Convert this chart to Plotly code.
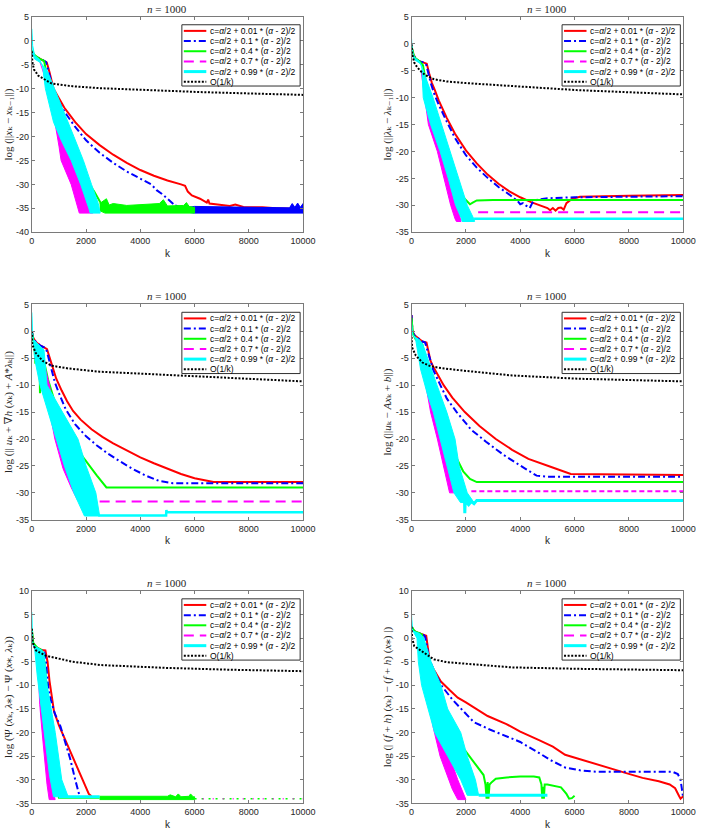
import plotly.graph_objects as go

# ---------------- colours / styles ----------------
RED, BLUE, GREEN, MAGENTA, CYAN, BLACK = "#ff0000", "#0000ff", "#00ff00", "#ff00ff", "#00ffff", "#000000"
SOLID, DASHDOT, DASH, DOT = "solid", "7px,3px,2px,3px", "10px,6px", "2px,1.6px"

SERIES_LABELS = [
    "c=<i>α</i>/2 + 0.01 * (<i>α</i> - 2)/2",
    "c=<i>α</i>/2 + 0.1 * (<i>α</i> - 2)/2",
    "c=<i>α</i>/2 + 0.4 * (<i>α</i> - 2)/2",
    "c=<i>α</i>/2 + 0.7 * (<i>α</i> - 2)/2",
    "c=<i>α</i>/2 + 0.99 * (<i>α</i> - 2)/2",
    "O(1/k)",
]
TITLE_TEXT = "<i>n</i> = 1000"
X_TICKS = [0, 2000, 4000, 6000, 8000, 10000]

Y_LABELS = [
    "log (||<i>x</i>ₖ − <i>x</i>ₖ₋₁||)",
    "log (||<i>λ</i>ₖ − <i>λ</i>ₖ₋₁||)",
    "log (|| <i>u</i>ₖ + ∇<i>h</i> (<i>x</i>ₖ) + <i>A</i>*<i>λ</i>ₖ||)",
    "log (||<i>u</i>ₖ − <i>Ax</i>ₖ + <i>b</i>||)",
    "log (Ψ (<i>x</i>ₖ, <i>λ</i>⁎) − Ψ (<i>x</i>⁎, <i>λ</i>ₖ))",
    "log (| (<i>f</i> + <i>h</i>) (<i>x</i>ₖ) − (<i>f</i> + <i>h</i>) (<i>x</i>⁎) |)",
]
Y_RANGES = [(-40, 5), (-35, 5), (-35, 5), (-35, 5), (-35, 10), (-35, 10)]

# ---------------- Panel 1 : ||x_k - x_{k-1}|| ----------------
P1_RED = [(0, -2.0), (50, -2.8), (150, -3.3), (300, -3.8), (450, -4.2), (550, -4.5), (650, -6.5), (750, -9.0),
          (800, -10.0), (1000, -12.0), (1200, -14.0), (1600, -17.0), (2000, -19.5), (2500, -21.8), (3000, -23.8),
          (3500, -25.5), (4000, -27.0), (4500, -28.2), (5000, -29.2), (5500, -30.0), (5650, -30.3), (5750, -31.5),
          (5900, -32.3), (6200, -33.0), (6450, -33.8), (6500, -33.2), (6550, -34.0), (7000, -34.3), (7300, -34.5),
          (7500, -34.2), (7800, -34.7), (8500, -34.8), (9000, -35.0), (10000, -35.2)]
P1_BLUE = [(0, -2.0), (50, -2.8), (150, -3.3), (300, -3.8), (450, -4.2), (520, -4.4), (620, -6.5), (720, -9.0),
           (800, -10.3), (1000, -12.8), (1200, -14.8), (1600, -18.0), (2000, -20.8), (2500, -23.4), (3000, -25.5),
           (3500, -27.3), (4000, -28.8), (4400, -30.0), (4600, -31.2), (4800, -32.0), (5000, -33.0), (5200, -34.0),
           (5400, -35.0)]
P1_BLUE_FLOOR_TOP = [(5300, -34.3), (5600, -34.9), (6000, -34.6), (9500, -34.9), (9600, -34.0), (9700, -34.8),
                     (9800, -33.9), (9900, -34.8), (10000, -34.0)]
P1_BLUE_FLOOR_BOT = [(5300, -35.5), (6000, -36.0), (10000, -36.0)]
P1_GREEN = [(0, -2.0), (100, -3.0), (300, -3.8), (450, -4.2), (550, -7.0), (800, -12.0), (1200, -19.0),
            (1600, -25.0), (2000, -29.0), (2300, -31.5), (2550, -34.0), (2700, -35.0)]
P1_GREEN_FLOOR_TOP = [(2500, -34.0), (2750, -33.0), (2850, -34.3), (3000, -34.0), (3500, -34.4), (4000, -34.2),
                      (4700, -34.0), (4850, -33.2), (5000, -34.5), (5600, -34.4), (5700, -33.8), (5800, -34.6),
                      (6000, -34.8)]
P1_GREEN_FLOOR_BOT = [(2500, -35.5), (2700, -36.0), (6000, -36.0)]
P1_MAGENTA_TOP = [(300, -4.5), (450, -7.0), (650, -12.0), (850, -17.0), (1000, -22.0), (1080, -25.0),
                  (1450, -30.0), (1700, -35.0), (1750, -36.0)]
P1_MAGENTA_BOT = [(450, -7.0), (700, -12.0), (950, -18.0), (1200, -22.0), (1500, -25.0), (1860, -30.0),
                  (2230, -35.5), (2250, -36.0)]
P1_CYAN_TOP = [(0, 2.5), (30, -1.0), (100, -3.0), (300, -4.0), (400, -5.5), (500, -10.0), (800, -17.0),
               (1100, -21.0), (1450, -25.0), (1800, -30.0), (2100, -35.0), (2150, -36.0)]
P1_CYAN_BOT = [(20, -2.5), (100, -3.8), (300, -4.5), (550, -6.0), (830, -10.0), (1200, -15.0), (1550, -20.0),
               (1900, -25.0), (2200, -30.0), (2450, -34.0), (2520, -36.0)]
P1_BLACK = [(1, -2.2), (20, -4.5), (80, -6.0), (240, -7.3), (720, -8.9), (1500, -9.5), (2500, -9.9),
            (3730, -10.2), (5000, -10.5), (6140, -10.7), (8000, -11.0), (10000, -11.3)]

# ---------------- Panel 2 : ||lambda_k - lambda_{k-1}|| ----------------
P2_RED = [(0, -0.5), (50, -1.8), (150, -2.8), (300, -3.3), (450, -3.5), (560, -3.7), (650, -5.5), (750, -7.3),
          (850, -8.5), (1000, -10.5), (1300, -13.8), (1600, -16.7), (2000, -19.8), (2400, -22.2), (2800, -24.3),
          (3200, -26.0), (3600, -27.4), (4000, -28.5), (4400, -29.4), (4800, -30.2), (5000, -30.5), (5100, -30.9),
          (5200, -30.5), (5300, -31.0), (5400, -30.5), (5500, -30.4), (5600, -30.8), (5700, -29.6), (5900, -28.8),
          (6200, -28.4), (7000, -28.3), (8000, -28.2), (10000, -28.1)]
P2_BLUE = [(0, -0.5), (50, -1.8), (150, -2.8), (300, -3.3), (450, -3.5), (530, -3.7), (620, -5.5), (720, -7.5),
           (850, -9.5), (1000, -11.3), (1300, -14.5), (1600, -17.5), (2000, -20.7), (2400, -23.0), (2800, -24.9),
           (3200, -26.6), (3600, -28.0), (3900, -29.2), (4000, -29.8), (4100, -29.6), (4200, -30.0), (4350, -30.5),
           (4450, -29.5), (4600, -29.0), (5000, -28.7), (6000, -28.5), (8000, -28.4), (10000, -28.3)]
P2_GREEN = [(0, -0.5), (100, -2.5), (300, -3.3), (420, -4.0), (600, -9.0), (900, -15.0), (1200, -20.0),
            (1500, -25.0), (1800, -28.0), (2050, -29.4), (2150, -29.8), (2250, -29.5), (2400, -29.1), (3000, -29.0),
            (10000, -29.0)]
P2_MAGENTA_TOP = [(350, -5.0), (480, -10.0), (620, -15.0), (950, -20.0), (1200, -25.0), (1440, -30.0),
                  (1600, -32.5), (1650, -33.0)]
P2_MAGENTA_BOT = [(450, -6.0), (650, -11.0), (800, -15.0), (1150, -20.0), (1400, -25.0), (1650, -30.0),
                  (1800, -32.5), (1820, -33.0)]
P2_MAGENTA_FLAT = [(2450, -31.3), (10000, -31.3)]
P2_CYAN_TOP = [(0, 1.0), (20, -1.0), (100, -2.5), (300, -3.3), (380, -4.5), (430, -10.0), (700, -15.0),
               (1050, -20.0), (1350, -25.0), (1620, -30.0), (1840, -32.5), (1860, -33.0)]
P2_CYAN_BOT = [(60, -2.8), (350, -3.8), (500, -6.0), (790, -10.0), (1440, -20.0), (1800, -26.0), (2050, -30.0),
               (2300, -32.6), (2320, -33.0)]
P2_CYAN_FLAT = [(2300, -32.5), (10000, -32.5)]
P2_BLACK = [(1, -0.1), (30, -2.0), (100, -3.5), (200, -4.3), (320, -5.0), (500, -5.8), (830, -6.6),
            (1300, -7.0), (2000, -7.3), (3700, -7.8), (6070, -8.6), (8000, -9.0), (10000, -9.4)]

# ---------------- Panel 3 : ||u_k + grad h(x_k) + A* lambda_k|| ----------------
P3_RED = [(0, 0.0), (50, -1.2), (150, -2.0), (300, -2.6), (450, -3.0), (560, -3.3), (650, -4.8), (750, -6.6),
          (900, -8.8), (1100, -11.0), (1300, -13.0), (1520, -14.8), (1800, -16.4), (2200, -18.2), (2600, -19.6),
          (3000, -20.8), (3500, -22.1), (4000, -23.4), (4500, -24.5), (5000, -25.5), (5500, -26.5), (6000, -27.3),
          (6500, -27.9), (6700, -28.0), (10000, -28.0)]
P3_BLUE = [(0, 0.0), (50, -1.2), (150, -2.0), (300, -2.6), (450, -3.0), (530, -3.3), (620, -5.0), (720, -7.0),
           (850, -9.5), (1000, -11.5), (1250, -14.5), (1600, -17.3), (2000, -19.5), (2400, -21.2), (2800, -22.7),
           (3200, -24.0), (3700, -25.5), (4200, -26.8), (4700, -27.8), (5200, -28.2), (10000, -28.2)]
P3_GREEN = [(0, 0.0), (50, -1.5), (100, -3.0), (130, -6.0), (160, -3.0), (280, -3.5), (300, -11.5), (320, -4.0),
            (400, -4.5), (600, -9.0), (900, -14.0), (1300, -19.0), (1700, -22.0), (1950, -23.8), (2400, -26.8),
            (2750, -29.0), (10000, -29.0)]
P3_MAGENTA_TOP = [(300, -4.0), (450, -9.0), (620, -14.0), (850, -20.0), (1150, -25.5), (1450, -29.0),
                  (1700, -31.5)]
P3_MAGENTA_BOT = [(400, -5.0), (650, -10.0), (860, -16.0), (1100, -21.0), (1500, -27.0), (1800, -30.5),
                  (1900, -31.5)]
P3_MAGENTA_FLAT = [(2500, -31.6), (10000, -31.6)]
P3_CYAN_TOP = [(0, 3.5), (30, -1.0), (80, -3.0), (100, -5.0), (300, -10.0), (600, -15.0), (900, -20.0),
               (1200, -25.0), (1550, -30.0), (1940, -34.3)]
P3_CYAN_BOT = [(60, -1.5), (300, -2.7), (450, -3.5), (560, -10.0), (1130, -15.0), (1700, -20.0), (2000, -25.0),
               (2360, -30.0), (2500, -34.3)]
P3_CYAN_FLAT = [(2450, -34.2), (4950, -34.2), (4960, -33.2), (4980, -33.6), (10000, -33.6)]
P3_BLACK = [(1, 0.0), (20, -2.5), (140, -4.0), (400, -5.5), (740, -6.4), (1340, -6.9), (2500, -7.5),
            (3740, -7.8), (6140, -8.5), (8000, -8.9), (10000, -9.3)]

# ---------------- Panel 4 : ||u_k - A x_k + b|| ----------------
P4_RED = [(0, 3.0), (30, 0.0), (100, -0.7), (250, -1.3), (400, -1.9), (550, -2.1), (620, -3.5), (700, -5.5),
          (800, -6.6), (1000, -8.5), (1180, -10.0), (1500, -12.3), (1960, -15.0), (2500, -17.6), (3100, -20.0),
          (3700, -22.0), (4300, -23.7), (5140, -25.2), (5500, -25.9), (5860, -26.5), (10000, -26.7)]
P4_BLUE = [(0, 3.0), (30, 0.0), (100, -0.7), (250, -1.3), (400, -1.9), (500, -2.1), (580, -3.5), (680, -5.5),
           (800, -7.2), (1060, -10.0), (1300, -12.5), (1660, -15.0), (2200, -18.3), (2740, -20.5), (3400, -23.0),
           (4180, -25.5), (4600, -26.8), (5000, -27.0), (10000, -27.0)]
P4_GREEN = [(0, 2.5), (50, -0.5), (150, -1.5), (300, -2.0), (400, -2.5), (550, -6.0), (800, -11.0),
            (1100, -16.0), (1400, -21.0), (1700, -24.0), (1900, -26.0), (2150, -27.4), (2400, -28.0),
            (10000, -28.0)]
P4_MAGENTA_TOP = [(280, -3.0), (420, -7.0), (560, -11.0), (700, -15.0), (950, -20.0), (1150, -24.5),
                  (1350, -29.5), (1400, -30.0)]
P4_MAGENTA_BOT = [(380, -3.5), (600, -9.0), (820, -15.0), (1050, -19.0), (1350, -25.0), (1650, -29.0),
                  (1850, -30.0)]
P4_MAGENTA_FLAT = [(2200, -29.7), (10000, -29.7)]
P4_CYAN_TOP = [(0, 2.0), (30, -0.5), (150, -1.5), (200, -3.0), (330, -7.0), (600, -12.0), (800, -15.0),
               (1050, -20.0), (1300, -25.0), (1560, -30.0), (1800, -31.8)]
P4_CYAN_BOT = [(60, -0.8), (300, -1.6), (420, -2.5), (500, -4.0), (936, -10.0), (1296, -15.0), (1600, -20.0),
               (1750, -25.0), (2050, -30.0), (2300, -31.8)]
P4_CYAN_FLAT = [(1950, -31.5), (1960, -33.8), (1975, -31.5), (2100, -32.2), (2200, -31.6), (2300, -32.0),
                (2400, -31.4), (10000, -31.4)]
P4_BLACK = [(1, -1.0), (20, -3.0), (155, -4.5), (400, -5.8), (700, -6.5), (1200, -6.9), (1900, -7.3),
            (3700, -8.2), (6100, -8.8), (8000, -9.1), (10000, -9.3)]

# ---------------- Panel 5 : Psi(x_k, l_*) - Psi(x_*, l_k) ----------------
P5_RED = [(0, 2.0), (20, -0.5), (100, -1.8), (250, -2.3), (350, -2.5), (500, -2.6), (580, -5.0), (650, -9.0),
          (740, -13.0), (817, -15.5), (1000, -18.5), (1177, -20.8), (1400, -24.0), (1656, -27.0), (1900, -30.5),
          (2100, -33.0), (2200, -33.5)]
P5_BLUE = [(0, 2.0), (20, -0.5), (100, -1.8), (250, -2.3), (350, -2.5), (450, -2.6), (520, -5.0), (580, -9.0),
           (620, -11.0), (696, -13.0), (850, -16.0), (1056, -18.7), (1250, -22.5), (1416, -25.6), (1600, -30.0),
           (1776, -33.8)]
P5_GREEN = [(0, 2.0), (50, -1.0), (200, -2.0), (350, -2.5), (420, -3.5), (480, -6.0), (540, -10.0),
            (600, -14.0), (700, -20.0), (800, -26.0), (900, -31.0), (1000, -33.8), (2500, -33.8)]
P5_GREEN_FLOOR_TOP = [(2500, -33.5), (5000, -33.5), (5100, -33.2), (5300, -33.6), (5400, -33.0), (5500, -33.6),
                      (5800, -33.5), (5850, -33.0), (5950, -33.6), (6000, -33.6)]
P5_GREEN_FLOOR_BOT = [(2500, -34.2), (6000, -34.2)]
P5_GREEN_TAIL = [(6000, -34.0), (10000, -34.0)]
P5_MAGENTA_TAIL = [(6300, -34.0), (10000, -34.0)]
P5_MAGENTA_TOP = [(200, -2.5), (240, -8.0), (290, -14.0), (380, -20.0), (470, -26.0), (560, -31.0),
                  (640, -34.2)]
P5_MAGENTA_BOT = [(300, -3.0), (420, -9.0), (500, -15.0), (560, -20.0), (640, -26.0), (720, -31.0),
                  (860, -34.2)]
P5_CYAN_TOP = [(0, 5.5), (20, -0.5), (100, -2.0), (200, -8.0), (350, -15.0), (500, -22.0), (650, -29.0),
               (800, -33.6)]
P5_CYAN_BOT = [(50, -1.5), (300, -2.3), (450, -3.0), (564, -10.0), (864, -20.0), (1104, -30.0), (1340, -33.6)]
P5_CYAN_FLAT = [(1000, -33.6), (2500, -33.6)]
P5_BLACK = [(1, 2.0), (20, -0.5), (80, -1.7), (150, -2.6), (500, -3.7), (740, -4.0), (1500, -5.0),
            (2540, -5.7), (4940, -6.3), (7340, -6.7), (10000, -7.0)]

# ---------------- Panel 6 : |(f+h)(x_k) - (f+h)(x_*)| ----------------
P6_RED = [(0, 2.5), (50, 1.8), (150, 1.3), (300, 1.0), (450, 0.8), (540, 0.5), (600, -2.0), (672, -5.0),
          (800, -6.5), (1080, -9.2), (1400, -11.0), (1700, -12.6), (2000, -13.6), (2292, -14.7), (2800, -16.5),
          (3492, -18.2), (4000, -19.8), (4692, -21.6), (5200, -23.0), (5652, -24.7), (6100, -25.5), (6700, -26.6),
          (7300, -27.6), (7900, -28.6), (8500, -29.6), (9100, -30.3), (9500, -31.0), (9700, -31.8), (9850, -33.5),
          (9900, -34.0), (10000, -33.5)]
P6_BLUE = [(0, 2.5), (50, 1.8), (150, 1.3), (300, 1.0), (420, 0.8), (500, 0.3), (580, -2.5), (650, -4.5),
           (800, -6.5), (1092, -10.0), (1500, -13.0), (1900, -15.5), (2292, -17.8), (2900, -19.4), (3492, -20.8),
           (4000, -22.0), (4600, -24.0), (5100, -25.8), (5652, -27.4), (6200, -28.0), (6800, -28.3), (9600, -28.3),
           (9800, -28.8), (9900, -30.0), (9950, -32.0), (10000, -34.0)]
P6_GREEN = [(0, 2.5), (100, 1.5), (300, 1.0), (380, 0.8), (450, -1.0), (520, -5.0), (600, -10.0), (700, -12.0),
            (1100, -16.0), (1500, -20.0), (1800, -22.5), (2200, -25.5), (2650, -29.0), (2720, -31.0),
            (2760, -34.0), (2800, -30.5), (2830, -34.0), (2870, -31.0), (2950, -30.5), (3100, -29.8),
            (3500, -29.5), (4000, -29.3), (4500, -29.3), (4700, -29.5), (4780, -31.0), (4810, -34.0),
            (4840, -31.5), (4870, -34.0), (4900, -31.0), (5000, -31.0), (5200, -31.2), (5500, -31.6),
            (5700, -33.0), (5800, -34.0), (5900, -33.9), (6000, -33.4)]
P6_MAGENTA_TOP = [(250, -3.0), (450, -8.0), (650, -14.0), (800, -19.0), (1050, -25.0), (1300, -29.0),
                  (1500, -32.0), (1700, -34.2)]
P6_MAGENTA_BOT = [(350, -3.5), (600, -9.0), (850, -15.0), (1100, -20.0), (1400, -25.0), (1700, -30.0),
                  (2000, -34.2)]
P6_CYAN_TOP = [(0, 5.0), (20, 2.0), (100, 1.0), (200, 0.0), (250, -5.0), (370, -10.0), (610, -15.0),
               (850, -20.0), (1330, -25.0), (1810, -30.0), (2050, -33.3)]
P6_CYAN_BOT = [(60, 1.5), (300, 1.0), (450, 0.0), (720, -5.0), (1080, -10.0), (1330, -15.0), (1810, -20.0),
               (2050, -25.0), (2350, -30.0), (2470, -33.3)]
P6_CYAN_FLAT = [(2470, -33.3), (5000, -33.3)]
P6_BLACK = [(1, 2.4), (20, 0.0), (100, -1.7), (460, -3.1), (820, -4.5), (1300, -5.1), (2500, -5.7),
            (3700, -6.2), (6100, -6.5), (8000, -6.7), (10000, -6.8)]

# ---------------- drawing order per panel (MATLAB plot order) ----------------
PANEL_ITEMS = [
    [("line", P1_RED, RED, SOLID, 2), ("line", P1_BLUE, BLUE, DASHDOT, 2),
     ("band", P1_BLUE_FLOOR_TOP, P1_BLUE_FLOOR_BOT, BLUE), ("line", P1_GREEN, GREEN, SOLID, 2),
     ("band", P1_GREEN_FLOOR_TOP, P1_GREEN_FLOOR_BOT, GREEN), ("band", P1_MAGENTA_TOP, P1_MAGENTA_BOT, MAGENTA),
     ("band", P1_CYAN_TOP, P1_CYAN_BOT, CYAN), ("line", P1_BLACK, BLACK, DOT, 2)],
    [("line", P2_RED, RED, SOLID, 2), ("line", P2_BLUE, BLUE, DASHDOT, 2), ("line", P2_GREEN, GREEN, SOLID, 2),
     ("band", P2_MAGENTA_TOP, P2_MAGENTA_BOT, MAGENTA), ("line", P2_MAGENTA_FLAT, MAGENTA, DASH, 2),
     ("band", P2_CYAN_TOP, P2_CYAN_BOT, CYAN), ("line", P2_CYAN_FLAT, CYAN, SOLID, 2.5),
     ("line", P2_BLACK, BLACK, DOT, 2)],
    [("line", P3_RED, RED, SOLID, 2), ("line", P3_BLUE, BLUE, DASHDOT, 2), ("line", P3_GREEN, GREEN, SOLID, 2),
     ("band", P3_MAGENTA_TOP, P3_MAGENTA_BOT, MAGENTA), ("line", P3_MAGENTA_FLAT, MAGENTA, DASH, 2),
     ("band", P3_CYAN_TOP, P3_CYAN_BOT, CYAN), ("line", P3_CYAN_FLAT, CYAN, SOLID, 2.5),
     ("line", P3_BLACK, BLACK, DOT, 2)],
    [("line", P4_RED, RED, SOLID, 2), ("line", P4_BLUE, BLUE, DASHDOT, 2), ("line", P4_GREEN, GREEN, SOLID, 2),
     ("band", P4_MAGENTA_TOP, P4_MAGENTA_BOT, MAGENTA), ("line", P4_MAGENTA_FLAT, MAGENTA, "5px,3px", 2),
     ("band", P4_CYAN_TOP, P4_CYAN_BOT, CYAN), ("line", P4_CYAN_FLAT, CYAN, SOLID, 3),
     ("line", P4_BLACK, BLACK, DOT, 2)],
    [("line", P5_RED, RED, SOLID, 2), ("line", P5_BLUE, BLUE, DASHDOT, 2), ("line", P5_GREEN, GREEN, SOLID, 2),
     ("band", P5_GREEN_FLOOR_TOP, P5_GREEN_FLOOR_BOT, GREEN), ("line", P5_GREEN_TAIL, GREEN, "2px,5px", 1.5),
     ("line", P5_MAGENTA_TAIL, MAGENTA, "1px,9px", 1.5),
     ("band", P5_MAGENTA_TOP, P5_MAGENTA_BOT, MAGENTA), ("band", P5_CYAN_TOP, P5_CYAN_BOT, CYAN),
     ("line", P5_CYAN_FLAT, CYAN, SOLID, 3), ("line", P5_BLACK, BLACK, DOT, 2)],
    [("line", P6_RED, RED, SOLID, 2), ("line", P6_BLUE, BLUE, DASHDOT, 2), ("line", P6_GREEN, GREEN, SOLID, 2),
     ("band", P6_MAGENTA_TOP, P6_MAGENTA_BOT, MAGENTA), ("band", P6_CYAN_TOP, P6_CYAN_BOT, CYAN),
     ("line", P6_CYAN_FLAT, CYAN, SOLID, 3), ("line", P6_BLACK, BLACK, DOT, 2)],
]

LEGEND_STYLES = [(RED, SOLID, 2), (BLUE, DASHDOT, 2), (GREEN, SOLID, 2), (MAGENTA, DASH, 2), (CYAN, SOLID, 3),
                 (BLACK, DOT, 2)]

# ---------------- layout geometry (pixels of the 708x838 page) ----------------
W, H = 708, 838
COLS_PX = [(29.5, 307.0), (418.0, 696.0)]
ROWS_PX = [(12.0, 230.0), (303.0, 521.0), (593.0, 808.0)]

AX_COLOR = "#7a7a7a"
TXT_COLOR = "#262626"
SANS = "Liberation Sans, Arial, sans-serif"
SERIF = "Liberation Serif, DejaVu Serif, Times New Roman, serif"

fig = go.Figure()
layout = dict(width=W, height=H, margin=dict(l=0, r=0, t=0, b=0), plot_bgcolor="white", paper_bgcolor="white",
              showlegend=False, shapes=[], annotations=[])

for i in range(6):
    r, c = divmod(i, 2)
    sfx = "" if i == 0 else str(i + 1)
    x0, x1 = COLS_PX[c]
    y0, y1 = ROWS_PX[r]
    pw, ph = x1 - x0, y1 - y0
    ylo, yhi = Y_RANGES[i]
    yticks = list(range(ylo, yhi + 1, 5))

    layout["xaxis" + sfx] = dict(
        domain=[x0 / W, x1 / W], range=[0, 10000], anchor="y" + sfx,
        tickvals=X_TICKS, ticktext=[str(v) for v in X_TICKS],
        ticks="inside", ticklen=3, tickcolor=AX_COLOR, showline=True, linecolor=AX_COLOR, linewidth=1,
        mirror="ticks", showgrid=False, zeroline=False,
        tickfont=dict(family=SANS, size=9, color=TXT_COLOR),
        title=dict(text="k", font=dict(family=SANS, size=10, color=TXT_COLOR), standoff=4))
    layout["yaxis" + sfx] = dict(
        domain=[1 - y1 / H, 1 - y0 / H], range=[ylo, yhi], anchor="x" + sfx,
        tickvals=yticks, ticktext=[str(v) for v in yticks],
        ticks="inside", ticklen=3, tickcolor=AX_COLOR, showline=True, linecolor=AX_COLOR, linewidth=1,
        mirror="ticks", showgrid=False, zeroline=False,
        tickfont=dict(family=SANS, size=9, color=TXT_COLOR),
        title=dict(text=Y_LABELS[i], font=dict(family=SERIF, size=11, color=TXT_COLOR), standoff=1))

    xa, ya = "x" + sfx, "y" + sfx
    for item in PANEL_ITEMS[i]:
        if item[0] == "line":
            _, pts, col, dash, wid = item
            fig.add_trace(go.Scatter(x=[p[0] for p in pts], y=[p[1] for p in pts], mode="lines",
                                     line=dict(color=col, width=wid, dash=dash), xaxis=xa, yaxis=ya,
                                     hoverinfo="skip", showlegend=False))
        else:
            _, top, bot, col = item
            xs = [p[0] for p in top] + [p[0] for p in bot[::-1]]
            ys = [p[1] for p in top] + [p[1] for p in bot[::-1]]
            fig.add_trace(go.Scatter(x=xs, y=ys, mode="lines", fill="toself", fillcolor=col,
                                     line=dict(color=col, width=1), xaxis=xa, yaxis=ya,
                                     hoverinfo="skip", showlegend=False))

    # title
    layout["annotations"].append(dict(text=TITLE_TEXT, xref=xa + " domain", yref=ya + " domain", x=0.5, y=1,
                                      xanchor="center", yanchor="bottom", yshift=0, showarrow=False,
                                      font=dict(family=SERIF, size=11, color=TXT_COLOR)))

    # legend box (MATLAB style, northeast)
    lx0 = 1 - 124 / pw
    lx1 = 1 - 3 / pw
    layout["shapes"].append(dict(type="rect", xref=xa + " domain", yref=ya + " domain",
                                 x0=lx0, x1=lx1, y0=1 - 70 / ph, y1=1 - 8 / ph,
                                 fillcolor="white", line=dict(color="#303030", width=1), layer="above"))
    for j, (lab, (col, dash, wid)) in enumerate(zip(SERIES_LABELS, LEGEND_STYLES)):
        yy = 1 - (14.2 + 10.3 * j) / ph
        layout["shapes"].append(dict(type="line", xref=xa + " domain", yref=ya + " domain",
                                     x0=lx0 + 2 / pw, x1=lx0 + 25 / pw, y0=yy, y1=yy,
                                     line=dict(color=col, width=wid, dash=dash), layer="above"))
        layout["annotations"].append(dict(text=lab, xref=xa + " domain", yref=ya + " domain",
                                          x=lx0 + 26.5 / pw, y=yy, xanchor="left", yanchor="middle",
                                          showarrow=False,
                                          font=dict(family=SANS, size=8.5, color="#000000")))

fig.update_layout(**layout)
fig.write_html("out.html")
